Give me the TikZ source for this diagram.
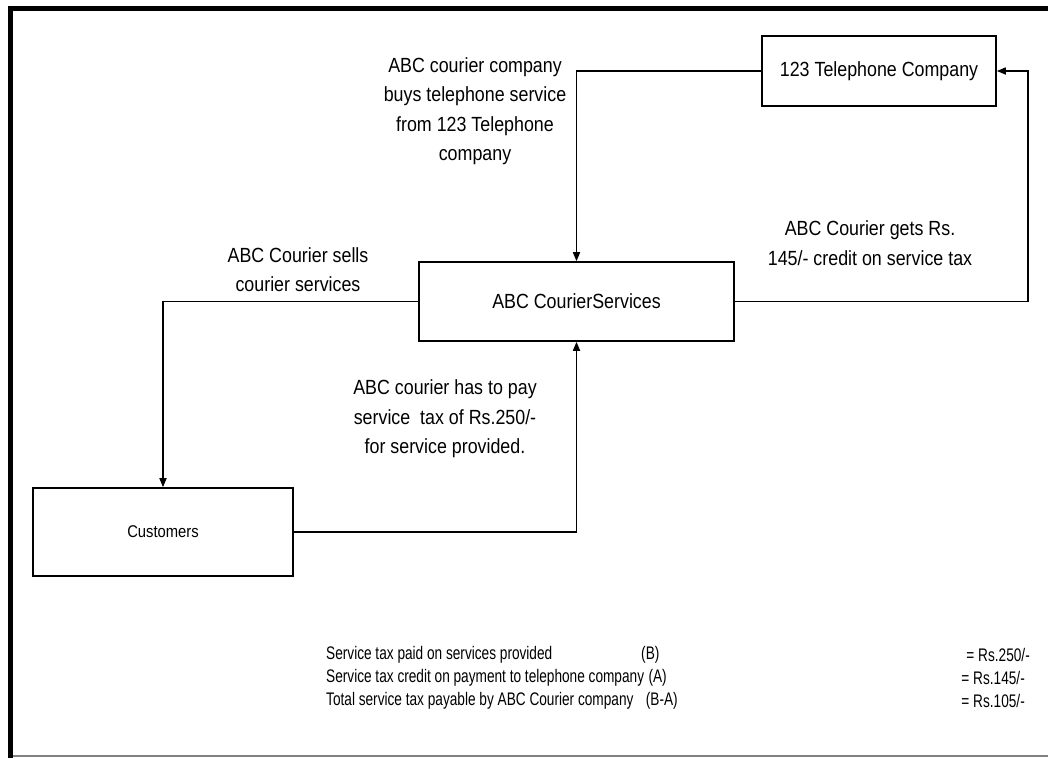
\documentclass[tikz,border=0pt]{standalone}
\usepackage{fontspec}
\setmainfont{Liberation Sans}[FakeStretch=0.87]
\newfontfamily\sumfont{Liberation Sans}[FakeStretch=0.75]
\usetikzlibrary{arrows.meta}

\begin{document}
\begin{tikzpicture}[x=1pt, y={(0pt,-1pt)},
  box/.style={draw, line width=1.6pt, inner sep=0pt},
  conn/.style={line width=1.6pt, -{Triangle[length=9pt,width=7pt]}},
  lbl/.style={align=center, inner sep=0pt, font=\fontsize{20.5}{29.5}\selectfont},
  sumtxt/.style={inner sep=0pt, font=\sumfont\fontsize{18.2}{23}\selectfont}
]
\useasboundingbox (0,0) rectangle (1048,758);

% page frame
\draw[line width=5pt, line join=miter] (10.5,758) -- (10.5,8.5) -- (1050,8.5);
\draw[line width=1.5pt, gray] (13,756) -- (1048,756);

% boxes
\node[box, minimum width=234pt, minimum height=70pt, font=\fontsize{20.5}{24}\selectfont] (tel) at (879,71) {123 Telephone Company};
\node[box, minimum width=315pt, minimum height=79pt, font=\fontsize{20.5}{24}\selectfont] (crs) at (576.5,301.5) {ABC CourierServices};
\node[box, minimum width=260pt, minimum height=88pt, font=\fontsize{17}{20}\selectfont] (cus) at (163,532) {Customers};

% connectors
\coordinate (rt) at (1028,301.5);
\draw[conn] (tel.west) -| (crs.north);
\draw[conn] (crs.west) -| (cus.north);
\draw[conn] (cus.east) -| (crs.south);
\draw[conn] (crs.east) -- (rt) |- (tel.east);

% connector labels
\node[lbl] (l1) at (475,111) {ABC courier company\\buys telephone service\\from 123 Telephone\\company};
\node[lbl] (l2) at (298,269.5) {ABC Courier sells\\courier services};
\node[lbl] (l3) at (445,419) {ABC courier has to pay\\service\ \ tax of Rs.250/-\\for service provided.};
\node[lbl] (l4) at (870,243) {ABC Courier gets Rs.\\145/- credit on service tax};

% tax summary
\node[sumtxt, anchor=west] (s1) at (326,655) {Service tax paid on services provided};
\node[sumtxt, anchor=west] (s2) at (326,678) {Service tax credit on payment to telephone company};
\node[sumtxt, anchor=west] (s3) at (326,701) {Total service tax payable by ABC Courier company};
\node[sumtxt, anchor=west] (b1) at (641,655) {(B)};
\node[sumtxt, anchor=west] (b2) at ([xshift=4pt]s2.east) {(A)};
\node[sumtxt, anchor=west] (b3) at ([xshift=12pt]s3.east) {(B-A)};
\node[sumtxt, anchor=east] (v1) at (1030,655) {= Rs.250/-};
\node[sumtxt, anchor=east] (v2) at (1025,678) {= Rs.145/-};
\node[sumtxt, anchor=east] (v3) at (1025,701) {= Rs.105/-};
\end{tikzpicture}
\end{document}
